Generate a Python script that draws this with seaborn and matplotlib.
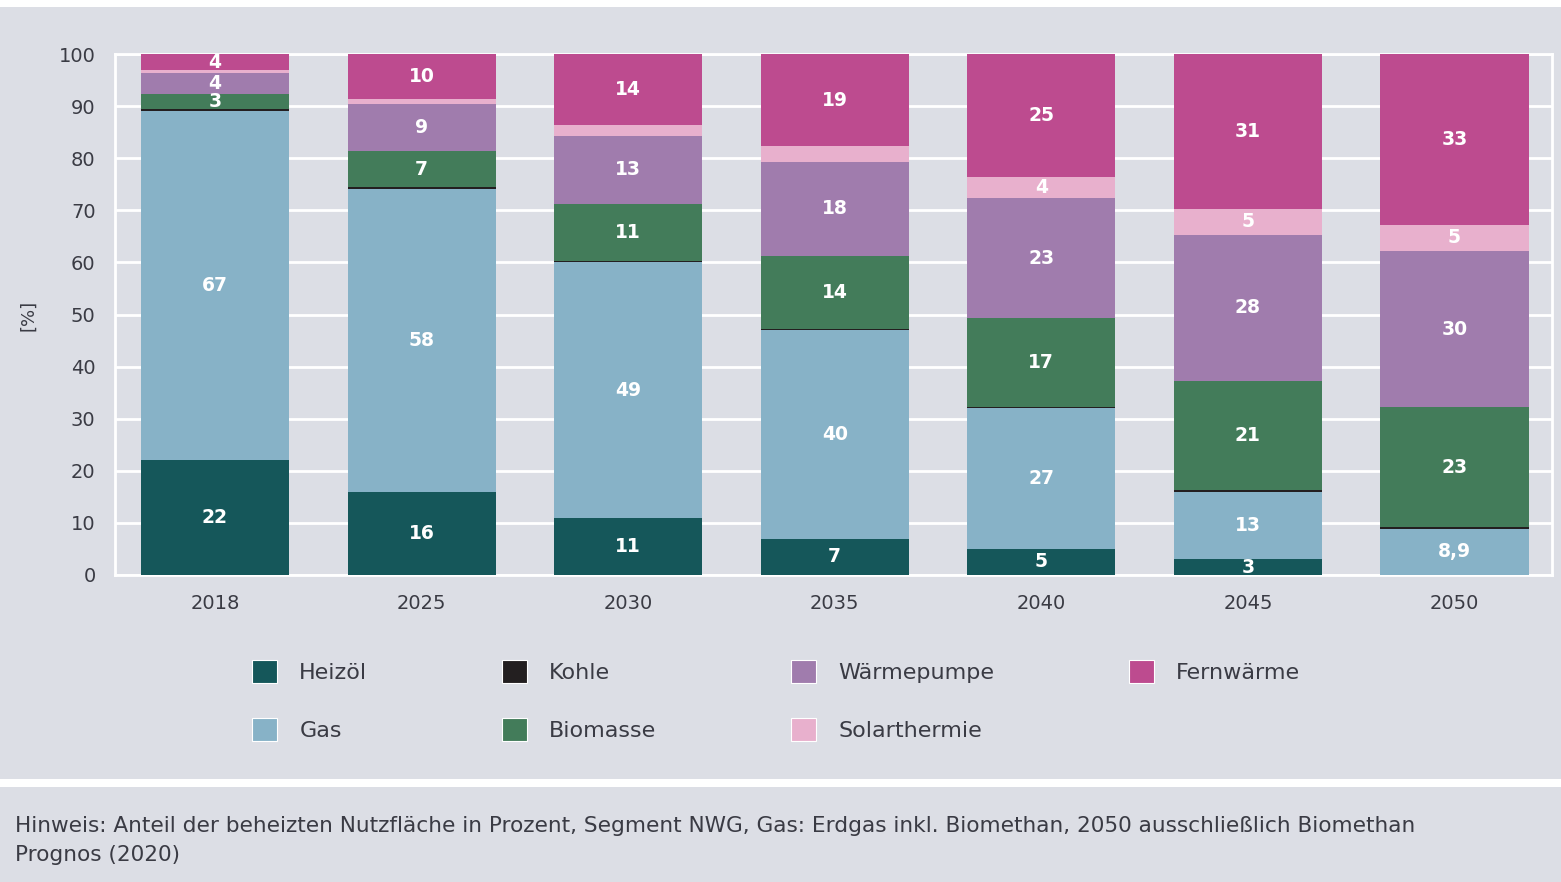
import numpy as np
import pandas as pd
import seaborn as sns
import matplotlib.pyplot as plt
from matplotlib.patches import Rectangle

# Share of heated floor space by heating system, in percent
years = ["2018", "2025", "2030", "2035", "2040", "2045", "2050"]
heizoel = [22, 16, 11, 7, 5, 3, 0]
gas = [67, 58, 49, 40, 27, 13, 8.9]
kohle = [0.4, 0.4, 0.3, 0.3, 0.3, 0.3, 0.3]
biomasse = [3, 7, 11, 14, 17, 21, 23]
waermepumpe = [4, 9, 13, 18, 23, 28, 30]
solarthermie = [0.5, 1, 2, 3, 4, 5, 5]
fernwaerme = [4, 10, 14, 19, 25, 31, 33]

series_names = ["Heizöl", "Gas", "Kohle", "Biomasse", "Wärmepumpe", "Solarthermie", "Fernwärme"]
series_values = [heizoel, gas, kohle, biomasse, waermepumpe, solarthermie, fernwaerme]
series_colors = ["#15575a", "#87b2c7", "#231f20", "#437c5a", "#a07cad", "#e8b0cd", "#bd4b8f"]
# smallest value that gets a printed label in each series
label_min = {"Kohle": np.inf, "Solarthermie": 4}

footnote = ("Hinweis: Anteil der beheizten Nutzfläche in Prozent, Segment NWG, Gas: Erdgas inkl. "
            "Biomethan, 2050 ausschließlich Biomethan")
source = "Prognos (2020)"

BG = "#dcdee5"
TEXT = "#3a3b44"

sns.set_theme(style="white")
plt.rcParams["font.family"] = ["DejaVu Sans"]

W, H = 1561, 882
fig = plt.figure(figsize=(W / 100, H / 100), dpi=100, facecolor=BG)
ax = fig.add_axes([115 / W, 1 - 575 / H, (1552 - 115) / W, (575 - 54) / H])
ax.set_facecolor(BG)

df = pd.DataFrame({"Jahr": years})
bottom = np.zeros(len(years))
for name, vals, col in zip(series_names, series_values, series_colors):
    vals = np.asarray(vals, dtype=float)
    sns.barplot(x=df["Jahr"], y=vals, bottom=bottom, color=col, width=0.717,
                saturation=1, linewidth=0, label=name, ax=ax, zorder=3)
    thr = label_min.get(name, 3)
    for i, v in enumerate(vals):
        if v >= thr:
            top = min(bottom[i] + v, 100)
            txt = f"{v:g}".replace(".", ",")
            ax.text(i, (bottom[i] + top) / 2, txt, ha="center", va="center",
                    color="white", fontsize=13.5, fontweight="bold", zorder=5)
    bottom = bottom + vals

ax.set_xlim(-0.484, 6.472)
ax.set_ylim(0, 100)
ax.set_yticks(np.arange(0, 101, 10))
ax.grid(axis="y", color="white", linewidth=2, zorder=0)
ax.set_axisbelow(True)
for s in ax.spines.values():
    s.set_visible(True)
    s.set_color("white")
    s.set_linewidth(2)
    s.set_zorder(1)
ax.tick_params(axis="y", length=0, pad=14, labelsize=14, labelcolor=TEXT)
ax.tick_params(axis="x", length=0, pad=14, labelsize=14, labelcolor=TEXT)
ax.set_xlabel("")
ax.set_ylabel("")
fig.text(28 / W, 1 - 315 / H, "[%]", rotation=90, ha="center", va="center",
         fontsize=13, color=TEXT)

handles, labels = ax.get_legend_handles_labels()
if ax.get_legend() is not None:
    ax.get_legend().remove()
leg = fig.legend(handles, labels, loc="upper left", bbox_to_anchor=(252 / W, 1 - 660 / H),
                 ncol=4, frameon=False, fontsize=16, handlelength=1.13, handleheight=1.2,
                 handletextpad=1.0, columnspacing=6.05, labelspacing=1.6,
                 borderpad=0, borderaxespad=0)
for t in leg.get_texts():
    t.set_color(TEXT)
for h in leg.legend_handles:
    h.set_edgecolor("white")
    h.set_linewidth(0.8)

# white bands at the top and above the footnote
fig.patches.append(Rectangle((0, 1 - 7 / H), 1, 7 / H, transform=fig.transFigure,
                             facecolor="white", edgecolor="none"))
fig.patches.append(Rectangle((0, 1 - 787 / H), 1, 8 / H, transform=fig.transFigure,
                             facecolor="white", edgecolor="none"))

fig.text(15 / W, 1 - 826 / H, footnote, ha="left", va="center", fontsize=15.6, color=TEXT)
fig.text(15 / W, 1 - 855 / H, source, ha="left", va="center", fontsize=15.6, color=TEXT)

fig.savefig("out.png", dpi=100, facecolor=BG)
